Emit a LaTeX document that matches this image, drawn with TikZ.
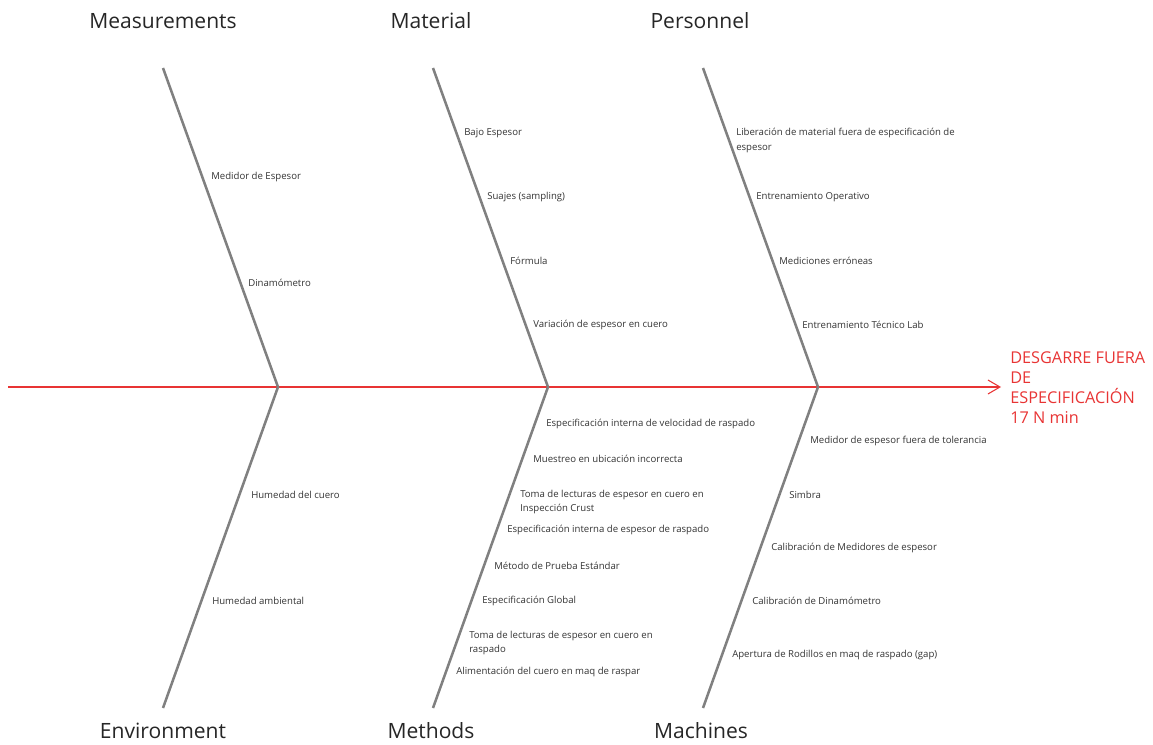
\documentclass[tikz,border=0pt]{standalone}
\usepackage{fontspec}
\setmainfont{Open Sans}
\usepackage{tikz}
\usetikzlibrary{arrows.meta, positioning}

\definecolor{bonegray}{RGB}{128,128,128}
\definecolor{effectred}{RGB}{232,52,52}

\begin{document}
\begin{tikzpicture}[x=0.75pt, y=-0.75pt,
    bone/.style={bonegray, line width=1.9pt},
    spine/.style={effectred, line width=0.8pt, -{Straight Barb[length=9pt, width=10.5pt]}},
    cat/.style={inner sep=0pt, font=\fontsize{15.8}{19}\selectfont\color{black!85}},
    cause/.style={anchor=west, inner sep=0pt, align=left, font=\fontsize{7.2}{11.2}\selectfont\color{black!80}},
    effect/.style={anchor=west, inner sep=0pt, align=left, effectred, font=\fontsize{12.2}{15}\selectfont}]
        \useasboundingbox (0,0) rectangle (1153,745);

        % Spine and head
        \coordinate (tail) at (8,387);
        \coordinate (head) at (1001,387);
        \draw[spine] (tail) -- (head);
        \node[effect] (eff) at (1010,388) {DESGARRE FUERA\\DE\\ESPECIFICACI\'ON\\17 N min};

        % Joints on the spine
        \coordinate (j1) at (278,387);
        \coordinate (j2) at (548,387);
        \coordinate (j3) at (818,387);

        % Bone ends
        \coordinate (t1) at (163,68);
        \coordinate (t2) at (433,68);
        \coordinate (t3) at (703,68);
        \coordinate (b1) at (163,708);
        \coordinate (b2) at (433,708);
        \coordinate (b3) at (703,708);

        % Bones
        \draw[bone] (t1) -- (j1) -- (b1);
        \draw[bone] (t2) -- (j2) -- (b2);
        \draw[bone] (t3) -- (j3) -- (b3);

        % Categories
        \node[cat] (meas) at (163,21) {Measurements};
        \node[cat] (mat) at (431,21) {Material};
        \node[cat] (pers) at (700,21) {Personnel};
        \node[cat] (env) at (163,731) {Environment};
        \node[cat] (meth) at (431,731) {Methods};
        \node[cat] (mach) at (701,731) {Machines};

        % Measurements
        \node[cause] (c11) at (211,177) {Medidor de Espesor};
        \node[cause] (c12) at (248,283) {Dinam\'ometro};

        % Material
        \node[cause] (c21) at (464,133) {Bajo Espesor};
        \node[cause] (c22) at (487,197) {Suajes (sampling)};
        \node[cause] (c23) at (510,261) {F\'ormula};
        \node[cause] (c24) at (533,325) {Variaci\'on de espesor en cuero};

        % Personnel
        \node[cause] (c31) at (736,140.5) {Liberaci\'on de material fuera de especificaci\'on de\\espesor};
        \node[cause] (c32) at (756,197) {Entrenamiento Operativo};
        \node[cause] (c33) at (779,261) {Mediciones err\'oneas};
        \node[cause] (c34) at (802,325) {Entrenamiento T\'ecnico Lab};

        % Environment
        \node[cause] (c41) at (251,495) {Humedad del cuero};
        \node[cause] (c42) at (212,601) {Humedad ambiental};

        % Methods
        \node[cause] (c51) at (546,424) {Especificaci\'on interna de velocidad de raspado};
        \node[cause] (c52) at (533,459) {Muestreo en ubicaci\'on incorrecta};
        \node[cause] (c53) at (520,502) {Toma de lecturas de espesor en cuero en\\Inspecci\'on Crust};
        \node[cause] (c54) at (507,530) {Especificaci\'on interna de espesor de raspado};
        \node[cause] (c55) at (494,566) {M\'etodo de Prueba Est\'andar};
        \node[cause] (c56) at (482,601) {Especificaci\'on Global};
        \node[cause] (c57) at (469,643) {Toma de lecturas de espesor en cuero en\\raspado};
        \node[cause] (c58) at (456,672) {Alimentaci\'on del cuero en maq de raspar};

        % Machines
        \node[cause] (c61) at (810,441) {Medidor de espesor fuera de tolerancia};
        \node[cause] (c62) at (789,495) {Simbra};
        \node[cause] (c63) at (771,548) {Calibraci\'on de Medidores de espesor};
        \node[cause] (c64) at (752,601) {Calibraci\'on de Dinam\'ometro};
        \node[cause] (c65) at (732,655) {Apertura de Rodillos en maq de raspado (gap)};
\end{tikzpicture}
\end{document}
